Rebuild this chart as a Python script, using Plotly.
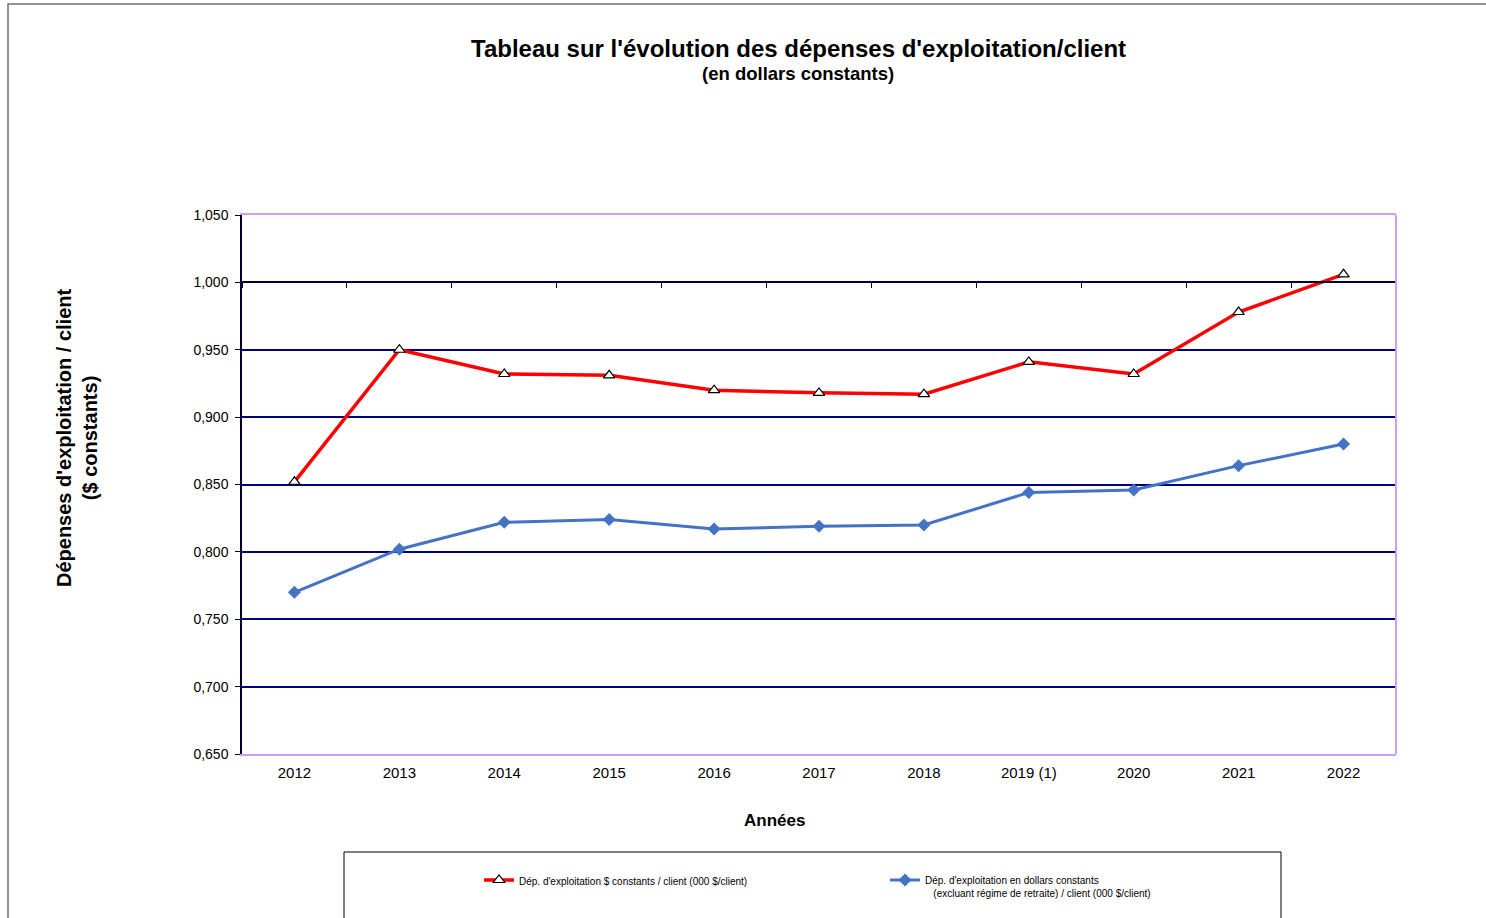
import plotly.graph_objects as go

years = ["2012", "2013", "2014", "2015", "2016", "2017", "2018", "2019 (1)", "2020", "2021", "2022"]
red_values = [0.852, 0.950, 0.932, 0.931, 0.920, 0.918, 0.917, 0.941, 0.932, 0.978, 1.006]
blue_values = [0.770, 0.802, 0.822, 0.824, 0.817, 0.819, 0.820, 0.844, 0.846, 0.864, 0.880]
y_ticks = [0.65, 0.70, 0.75, 0.80, 0.85, 0.90, 0.95, 1.00, 1.05]
y_ticklabels = ["0,650", "0,700", "0,750", "0,800", "0,850", "0,900", "0,950", "1,000", "1,050"]

red_name = "Dép. d'exploitation $ constants / client (000 $/client)"
blue_name = ("Dép. d'exploitation en dollars constants<br>"
             "\u00a0\u00a0\u00a0(excluant régime de retraite) / client (000 $/client)")

FONT = "Arial, Liberation Sans, sans-serif"
W, H = 1486, 918
OFF = 0  # body margin removed below
L, T = 242 - OFF, 215 - OFF
PW, PH = 1154, 539
R, B = W - L - PW, H - T - PH

def px_x(p):
    return (p - OFF - L) / PW

def px_y(p):
    return (T + PH - (p - OFF)) / PH

fig = go.Figure()
fig.add_trace(go.Scatter(
    x=years, y=red_values, name=red_name, mode="lines+markers",
    line=dict(color="#FF0000", width=3.5),
    marker=dict(symbol="triangle-up", size=10, color="white",
                line=dict(color="black", width=1.2)),
))
fig.add_trace(go.Scatter(
    x=years, y=blue_values, name=blue_name, mode="lines+markers",
    line=dict(color="#4472C4", width=3),
    marker=dict(symbol="diamond", size=10, color="#4472C4"),
))
# invisible helper trace for the crossing axis at 1.000
fig.add_trace(go.Scatter(
    x=years, y=blue_values, xaxis="x2", mode="lines", opacity=0,
    showlegend=False, hoverinfo="skip",
))

cross_pos = (1.00 - 0.65) / (1.05 - 0.65)

fig.update_layout(
    width=W, height=H,
    margin=dict(l=L, r=R, t=T, b=B),
    paper_bgcolor="white", plot_bgcolor="white",
    font=dict(family=FONT, color="black"),
    showlegend=True,
    legend=dict(
        orientation="h", x=px_x(479), y=px_y(867), xanchor="left", yanchor="top",
        font=dict(size=10, family=FONT), entrywidth=361, entrywidthmode="pixels",
        bgcolor="rgba(0,0,0,0)", itemwidth=30, valign="top",
    ),
    xaxis=dict(
        type="category", range=[-0.5, 10.5], showgrid=False,
        showline=True, linecolor="#C9A0FF", linewidth=2, mirror=True,
        ticks="", tickfont=dict(size=15, family=FONT), zeroline=False,
        ticklabelstandoff=4,
    ),
    xaxis2=dict(
        type="category", range=[-0.5, 10.5], overlaying="x", anchor="free",
        position=cross_pos, side="bottom", showline=True, linecolor="#000033",
        linewidth=2, ticks="outside", ticklen=5, tickwidth=1, tickcolor="#000033",
        tickson="boundaries", showticklabels=False, showgrid=False, zeroline=False,
    ),
    yaxis=dict(
        range=[0.65, 1.05], tickvals=y_ticks, ticktext=y_ticklabels,
        showgrid=True, gridcolor="#000080", gridwidth=1.5,
        showline=True, linecolor="#000033", linewidth=1.5,
        ticks="outside", ticklen=5, tickcolor="#000033",
        tickfont=dict(size=14, family=FONT), zeroline=False,
        ticklabelstandoff=4,
    ),
    shapes=[
        dict(type="line", xref="paper", yref="paper", x0=1, x1=1, y0=0, y1=1,
             line=dict(color="#C9A0FF", width=2)),
        dict(type="rect", xref="paper", yref="paper",
             x0=px_x(8), x1=px_x(1500), y0=px_y(4), y1=px_y(940),
             line=dict(color="#707070", width=1.5)),
        dict(type="rect", xref="paper", yref="paper",
             x0=px_x(344), x1=px_x(1281), y0=px_y(852), y1=px_y(940),
             line=dict(color="black", width=1)),
    ],
    annotations=[
        dict(text="<b>Tableau sur l'évolution des dépenses d'exploitation/client</b>",
             xref="paper", yref="paper", x=px_x(798), y=px_y(48),
             showarrow=False, font=dict(size=24, family=FONT), xanchor="center", yanchor="middle"),
        dict(text="<b>(en dollars constants)</b>",
             xref="paper", yref="paper", x=px_x(798), y=px_y(73),
             showarrow=False, font=dict(size=18.5, family=FONT), xanchor="center", yanchor="middle"),
        dict(text="<b>Dépenses d'exploitation / client<br>($ constants)</b>",
             xref="paper", yref="paper", x=px_x(77), y=px_y(438), textangle=-90,
             showarrow=False, font=dict(size=20, family=FONT), xanchor="center", yanchor="middle"),
        dict(text="<b>Années</b>",
             xref="paper", yref="paper", x=px_x(774), y=px_y(820),
             showarrow=False, font=dict(size=17, family=FONT), xanchor="center", yanchor="middle"),
    ],
)

fig.write_html("out.html", config={"displayModeBar": False},
               post_script="document.body.style.margin='0';document.body.style.overflow='hidden';")
